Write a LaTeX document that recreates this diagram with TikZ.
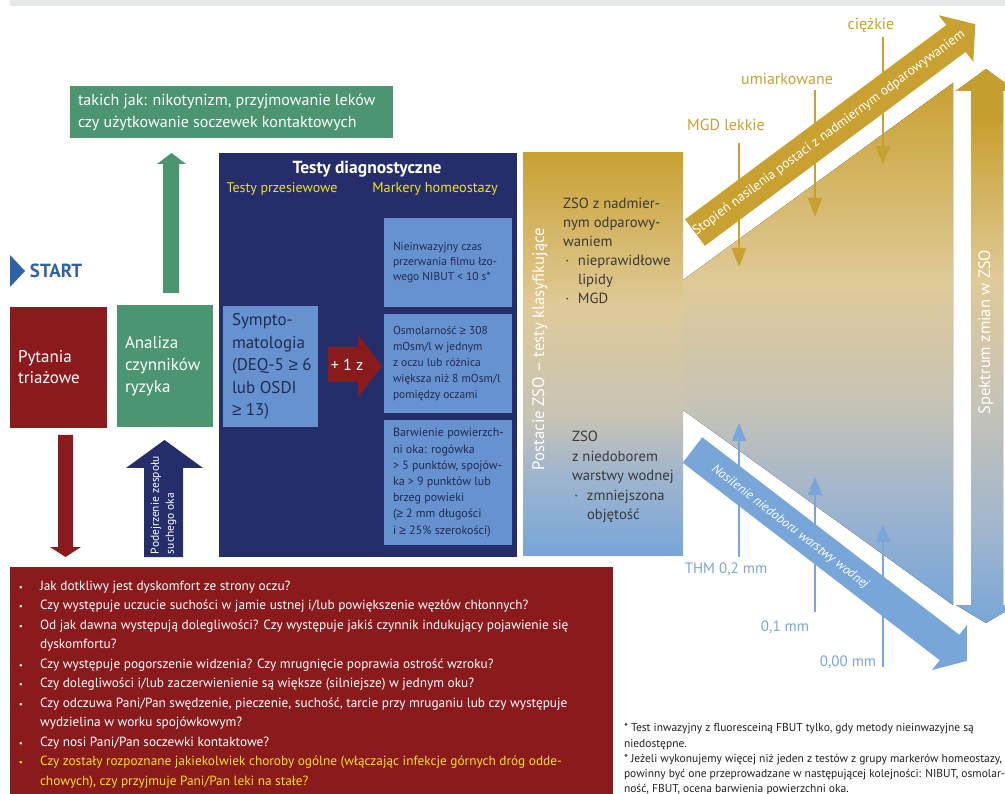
\documentclass[tikz,border=0pt]{standalone}
\usepackage{fontspec}
\setmainfont{PT Sans}
\newfontfamily\lsans{Liberation Sans}
\newcommand{\zge}{{\lsans ≥}}
\usetikzlibrary{arrows.meta}
\definecolor{zgreen}{HTML}{4B9570}
\definecolor{zred}{HTML}{8B1A1D}
\definecolor{znavy}{HTML}{252E6A}
\definecolor{zlblue}{HTML}{6692CF}
\definecolor{zgold}{HTML}{C9A131}
\definecolor{zgoldd}{HTML}{C49E2E}
\definecolor{zblue}{HTML}{78A6D8}
\definecolor{zyellow}{HTML}{EFE21E}
\definecolor{zstart}{HTML}{3062A8}
\definecolor{zdark}{HTML}{222B52}
\definecolor{zgrey}{HTML}{3A3A3A}
\definecolor{zbar}{HTML}{E6E7E9}
\definecolor{zlight}{HTML}{DFCA98}
\definecolor{zmid}{HTML}{C6C3B6}
\definecolor{zbg}{HTML}{9FB5CE}
\definecolor{zfoot}{HTML}{231F20}
\pgfdeclareverticalshading{zsA}{100bp}{color(0bp)=(zblue); color(25bp)=(zblue); color(35bp)=(zbg); color(42bp)=(zmid); color(56bp)=(zlight); color(75bp)=(zgold); color(100bp)=(zgold)}
\pgfdeclareverticalshading{zsB}{100bp}{color(0bp)=(zblue); color(25bp)=(zblue); color(35bp)=(zbg); color(44bp)=(zmid); color(56bp)=(zlight); color(75bp)=(zgold); color(100bp)=(zgold)}
\pgfdeclareverticalshading{zsC}{100bp}{color(0bp)=(zblue); color(25bp)=(zblue); color(33bp)=(zbg); color(45bp)=(zmid); color(56bp)=(zlight); color(70bp)=(zgold); color(100bp)=(zgold)}
\begin{document}
\begin{tikzpicture}[x=1pt,y=-1pt,
  every node/.style={inner sep=0pt,outer sep=0pt},
  fbox/.style={anchor=north west,draw=none},
  txt/.style={align=left,anchor=west},
  garr/.style={draw=zgold,line width=2.5pt,-{Triangle[width=14pt,length=19pt]}},
  barr/.style={draw=zblue,line width=2.5pt,-{Triangle[width=14pt,length=18pt]}},
  glab/.style={text=zgold,font=\fontsize{16}{18}\selectfont},
  blab/.style={text=zblue,font=\fontsize{15}{18}\selectfont}]
\useasboundingbox (0,0) rectangle (1005,794);
\fill[white] (0,0) rectangle (1005,794);
% top bar
\fill[zbar] (10,0) rectangle (1005,6);

% START
\fill[zstart] (10,255) -- (25,271) -- (10,287) -- cycle;
\node[txt,text=zstart,font=\bfseries\fontsize{19}{20}\selectfont] (start) at (30,271) {START};

% risk factors box (top)
\node[fbox,fill=zgreen,minimum width=323pt,minimum height=52pt] (riskbox) at (70,86) {};
\node[txt,text=white,font=\fontsize{16}{22}\selectfont] (risktxt) at ([xshift=8pt]riskbox.west) {takich jak: nikotynizm, przyjmowanie leków\\czy użytkowanie soczewek kontaktowych};

% green up arrow
\coordinate (gA) at (171,293);
\fill[zgreen] (163,293) -- (163,164) -- (157,164) -- (171.5,153) -- (186,164) -- (179,164) -- (179,293) -- cycle;

% Pytania triazowe
\node[fbox,fill=zred,minimum width=97pt,minimum height=121pt] (triage) at (10,307) {};
\node[txt,text=white,font=\fontsize{17}{21}\selectfont] at ([xshift=8pt]triage.west) {Pytania\\triażowe};

% Analiza
\node[fbox,fill=zgreen,minimum width=96pt,minimum height=122pt] (analiza) at (117,305) {};
\node[txt,text=white,font=\fontsize{17}{22}\selectfont] at ([xshift=8pt]analiza.west) {Analiza\\czynników\\ryzyka};

% red down arrow
\fill[zred] (58,435) -- (73,435) -- (73,547) -- (81,547) -- (65.5,557) -- (50,547) -- (58,547) -- cycle;

% navy up arrow
\fill[znavy] (144,557) -- (144,468) -- (126,468) -- (164.5,440) -- (203,468) -- (183,468) -- (183,557) -- cycle;
\node[txt,rotate=90,text=white,font=\fontsize{11.5}{15}\selectfont] (susp) at (163.5,554) {Podejrzenie zespołu\\suchego oka};

% diagnostic tests
\node[fbox,fill=znavy,minimum width=298pt,minimum height=404pt] (diag) at (219,153) {};
\node[text=white,font=\bfseries\fontsize{17.5}{18}\selectfont] (diagt) at (367,169) {Testy diagnostyczne};
\node[text=zyellow,font=\fontsize{14}{16}\selectfont] (scr) at (282,189) {Testy przesiewowe};
\node[text=zyellow,font=\fontsize{14.3}{16}\selectfont] (hom) at (435,189) {Markery homeostazy};

\node[fbox,fill=zlblue,minimum width=95pt,minimum height=121pt] (sympt) at (223,306) {};
\node[txt,text=zdark,font=\fontsize{17}{22.5}\selectfont] at ([xshift=9pt]sympt.west) {Sympto-\\matologia\\(DEQ-5 \zge{} 6\\lub OSDI\\\zge{} 13)};

\fill[zred] (328,347) -- (358,347) -- (358,335) -- (382,366) -- (358,397) -- (358,382) -- (328,382) -- cycle;
\node[text=white,font=\fontsize{16}{18}\selectfont] (plus) at (347,365) {+ 1 z};

\node[fbox,fill=zlblue,minimum width=128pt,minimum height=89pt] (mk1) at (384,218) {};
\node[txt,text=zdark,font=\fontsize{11.5}{15}\selectfont] at ([xshift=9pt]mk1.west) {Nieinwazyjny czas\\przerwania filmu łzo-\\wego NIBUT < 10 s*};
\node[fbox,fill=zlblue,minimum width=128pt,minimum height=99pt] (mk2) at (384,314) {};
\node[txt,text=zdark,font=\fontsize{11.5}{16}\selectfont] at ([xshift=9pt]mk2.west) {Osmolarność \zge{} 308\\mOsm/l w jednym\\z oczu lub różnica\\większa niż 8 mOsm/l\\pomiędzy oczami};
\node[fbox,fill=zlblue,minimum width=128pt,minimum height=125pt] (mk3) at (384,420) {};
\node[txt,text=zdark,font=\fontsize{12}{16.2}\selectfont] at ([xshift=9pt]mk3.west) {Barwienie powierzch-\\ni oka: rogówka\\> 5 punktów, spojów-\\ka > 9 punktów lub\\brzeg powieki\\(\zge{} 2 mm długości\\i \zge{} 25\% szerokości)};

% ZSO classification column
\node[fbox,minimum width=160pt,minimum height=402pt] (zso) at (523,153) {};
\fill[shading=zsA] (523,153) rectangle (683,555);
\node[rotate=90,text=white,font=\fontsize{16.7}{18}\selectfont] (zsot) at (540,349) {Postacie ZSO – testy klasyfikujące};
\node[txt,text=zgrey,font=\fontsize{14.7}{19}\selectfont] (evap) at (563,250.5) {ZSO z nadmier-\\nym odparowy-\\waniem\\\makebox[15pt][l]{\,·}nieprawidłowe\\\hspace*{15pt}lipidy\\\makebox[15pt][l]{\,·}MGD};
\node[txt,text=zgrey,font=\fontsize{14.7}{19.5}\selectfont] (aqua) at (572,477) {ZSO\\z niedoborem\\warstwy wodnej\\\makebox[15pt][l]{\,·}zmniejszona\\\hspace*{15pt}objętość};

% spectrum polygon
\fill[shading=zsB] (683,280) -- (953,83) -- (953,605) -- (683,410) -- cycle;

% right vertical double arrow
\fill[shading=zsC] (986,69) -- (1016,91) -- (1003,91) -- (1003,605) -- (1016,605) -- (986,623) -- (956,605) -- (971,605) -- (971,91) -- (956,91) -- cycle;
\fill[zgoldd] (986,69) -- (1016,91) -- (1003,91) -- (1003,122) -- (971,122) -- (971,91) -- (956,91) -- cycle;
\node[rotate=90,text=white,font=\fontsize{16.5}{18}\selectfont] (spec) at (986,332) {Spektrum zmian w ZSO};

% gold down arrows
\coordinate (g1s) at (739,143); \coordinate (g1e) at (739,267);
\coordinate (g2s) at (815,90); \coordinate (g2e) at (815,217);
\coordinate (g3s) at (883,37); \coordinate (g3e) at (883,165);
\draw[garr] (g1s) -- (g1e);
\draw[garr] (g2s) -- (g2e);
\draw[garr] (g3s) -- (g3e);
\node[glab] (g1) at (726,125) {MGD lekkie};
\node[glab] (g2) at (787,79) {umiarkowane};
\node[glab] (g3) at (871,25) {ciężkie};

% gold diagonal arrow
\fill[zgold] (685.1,219.3) -- (946.3,25.1) -- (938.7,15.2) -- (975.3,24.2) -- (973.3,61.8) -- (965.7,51.9) -- (704.9,245.8) -- cycle;
\node[rotate=36.6,text=white,font=\fontsize{13.5}{16}\selectfont] (evapd) at (829,133) {Stopień nasilenia postaci z nadmiernym odparowywaniem};

% blue up arrows
\coordinate (b1s) at (739,557); \coordinate (b1e) at (739,423);
\coordinate (b2s) at (815,612); \coordinate (b2e) at (815,477);
\coordinate (b3s) at (883,667); \coordinate (b3e) at (883,524);
\draw[barr] (b1s) -- (b1e);
\draw[barr] (b2s) -- (b2e);
\draw[barr] (b3s) -- (b3e);

% blue diagonal arrow
\fill[zblue] (702.3,437.3) -- (959.3,634.8) -- (967,625) -- (966.9,660.9) -- (932,670) -- (939.7,660.2) -- (682.7,462.7) -- cycle;
\node[rotate=-37.6,text=white,font=\itshape\fontsize{13}{16}\selectfont] (aquad) at (790,527) {Nasilenie niedoboru warstwy wodnej};

\node[blab] (l1) at (726,569) {THM 0,2 mm};
\node[blab] (l2) at (785,627) {0,1 mm};
\node[blab] (l3) at (848,662) {0,00 mm};

% bottom questions box
\node[fbox,fill=zred,minimum width=603pt,minimum height=230pt] (qbox) at (10,567) {};
\node[txt,text=white,font=\fontsize{13.3}{19.5}\selectfont] (qtxt) at (19,684.5) {%
\makebox[21pt][l]{\small•}Jak dotkliwy jest dyskomfort ze strony oczu?\\
\makebox[21pt][l]{\small•}Czy występuje uczucie suchości w jamie ustnej i/lub powiększenie węzłów chłonnych?\\
\makebox[21pt][l]{\small•}Od jak dawna występują dolegliwości? Czy występuje jakiś czynnik indukujący pojawienie się\\
\hspace*{21pt}dyskomfortu?\\
\makebox[21pt][l]{\small•}Czy występuje pogorszenie widzenia? Czy mrugnięcie poprawia ostrość wzroku?\\
\makebox[21pt][l]{\small•}Czy dolegliwości i/lub zaczerwienienie są większe (silniejsze) w jednym oku?\\
\makebox[21pt][l]{\small•}Czy odczuwa Pani/Pan swędzenie, pieczenie, suchość, tarcie przy mruganiu lub czy występuje\\
\hspace*{21pt}wydzielina w worku spojówkowym?\\
\makebox[21pt][l]{\small•}Czy nosi Pani/Pan soczewki kontaktowe?\\
\textcolor{zyellow}{\makebox[21pt][l]{\small•}Czy zostały rozpoznane jakiekolwiek choroby ogólne (włączając infekcje górnych dróg odde-}\\
\textcolor{zyellow}{\hspace*{21pt}chowych), czy przyjmuje Pani/Pan leki na stałe?}};

% footnotes
\node[txt,text=zfoot,font=\fontsize{11.5}{15.25}\selectfont] (foot) at (624,759.5) {* Test inwazyjny z fluoresceiną FBUT tylko, gdy metody nieinwazyjne są\\niedostępne.\\* Jeżeli wykonujemy więcej niż jeden z testów z grupy markerów homeostazy,\\powinny być one przeprowadzane w następującej kolejności: NIBUT, osmolar-\\ność, FBUT, ocena barwienia powierzchni oka.};
\end{tikzpicture}
\end{document}
